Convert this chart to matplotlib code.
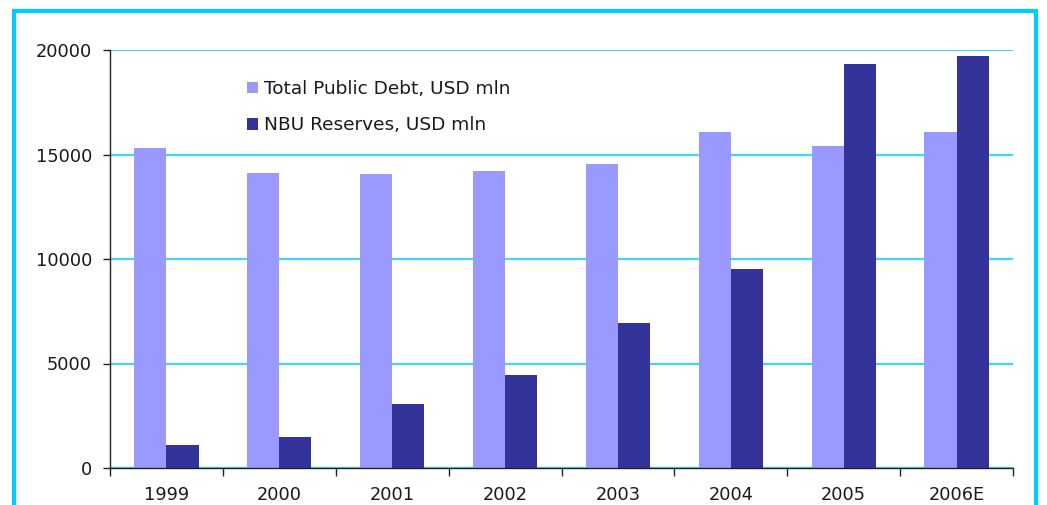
import matplotlib
matplotlib.use("Agg")
from matplotlib import pyplot as plt
from matplotlib import patches
import numpy as np

years = ["1999", "2000", "2001", "2002", "2003", "2004", "2005", "2006E"]
public_debt = [15300, 14100, 14050, 14200, 14550, 16100, 15400, 16100]
nbu_reserves = [1100, 1500, 3050, 4450, 6950, 9500, 19350, 19700]
series_names = ["Total Public Debt, USD mln", "NBU Reserves, USD mln"]
y_ticks = [0, 5000, 10000, 15000, 20000]

LIGHT = "#9999FF"
DARK = "#333399"
CYAN = "#00CCFF"
GRID = "#40D4FF"
TEXT = "#1a1a1a"

plt.rcParams["font.family"] = ["DejaVu Sans"]

fig = plt.figure(figsize=(10.47, 5.05), dpi=100)
ax = fig.add_axes([110 / 1047, 1 - 468 / 505, 903 / 1047, 418 / 505])

x = np.arange(len(years))
w = 0.285
ax.bar(x - w, public_debt, width=w, align="edge", color=LIGHT, label=series_names[0], zorder=2)
ax.bar(x, nbu_reserves, width=w, align="edge", color=DARK, label=series_names[1], zorder=2)

ax.set_xlim(-0.5, len(years) - 0.5)
ax.set_ylim(0, 20000)
ax.set_yticks(y_ticks)
ax.set_yticklabels([str(t) for t in y_ticks])
ax.yaxis.grid(True, color=GRID, lw=1.6, zorder=1)
ax.set_axisbelow(True)

# year labels centred, tick marks between the groups
ax.set_xticks(x)
ax.set_xticklabels(years)
ax.set_xticks(np.arange(-0.5, len(years)), minor=True)
ax.tick_params(axis="x", which="major", length=0, pad=13, labelsize=12.8, labelcolor=TEXT)
ax.tick_params(axis="x", which="minor", length=6, width=1, color="#222222", direction="out")
ax.tick_params(axis="y", length=5, width=1, color="#222222", pad=8, labelsize=12.8, labelcolor=TEXT)

for side in ("top", "right"):
    ax.spines[side].set_visible(False)
for side in ("left", "bottom"):
    ax.spines[side].set_color("#222222")
    ax.spines[side].set_linewidth(1)

ax.legend(loc="upper left", bbox_to_anchor=(247 / 1047, 1 - 80 / 505),
          bbox_transform=fig.transFigure, frameon=False, fontsize=13.3,
          handlelength=0.6, handleheight=0.6, handletextpad=0.3,
          labelspacing=1.0, borderpad=0, borderaxespad=0, labelcolor=TEXT)

# cyan frame round the chart, running off the bottom edge
frame = patches.Rectangle((14 / 1047, -0.2), 1022 / 1047, 1.2 - 11 / 505,
                          transform=fig.transFigure, fill=False,
                          edgecolor=CYAN, lw=3, clip_on=False)
fig.patches.append(frame)

fig.savefig("out.png", dpi=100)
